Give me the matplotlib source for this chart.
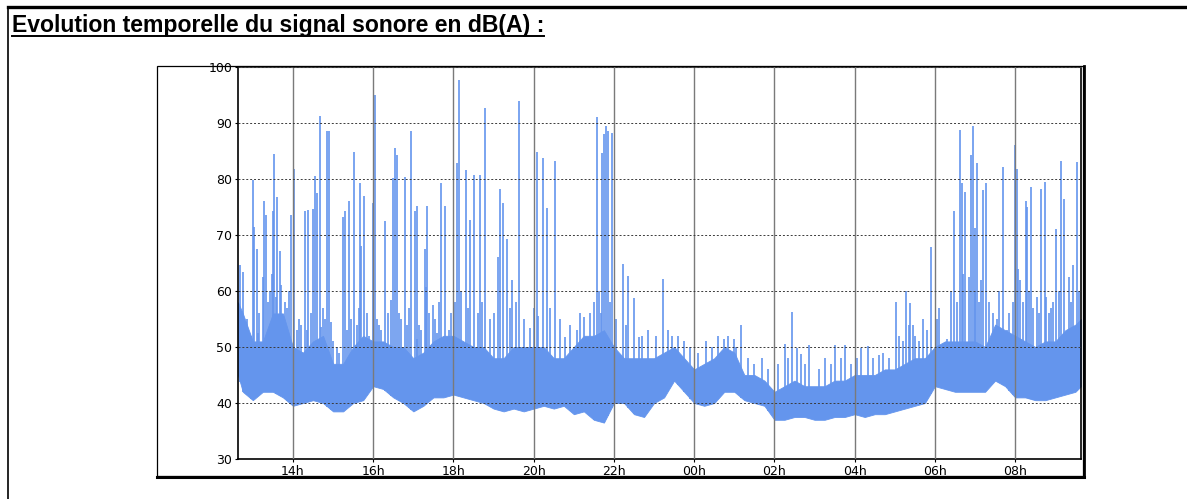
import numpy as np
import matplotlib.pyplot as plt
from matplotlib.lines import Line2D
from matplotlib.patches import Rectangle

# temps en heures depuis minuit du premier jour (24+ = lendemain)
env_t = [12.63] + list(np.arange(12.75, 33.51, 0.25)) + [33.64]

# enveloppe basse / haute du bruit de fond en dB(A), lue toutes les 15 min
env_lo = [45, 42,
          40.5, 42, 42, 41,
          39.5, 40, 40.5, 40,
          38.5, 38.5, 40, 40.5,
          43, 42.5, 41, 40,
          38.5, 39.5, 41, 41,
          41.5, 41, 40.5, 40,
          39, 38.5, 39, 38.5,
          39, 39.5, 39, 39.5,
          38, 38.5, 37, 36.5,
          40, 40, 38, 37.5,
          40, 41, 44, 42,
          40, 39.5, 40, 42,
          42, 40.5, 40, 39.5,
          37, 37, 37.5, 37.5,
          37, 37, 37.5, 37.5,
          38, 37.5, 38, 38,
          38.5, 39, 39.5, 40,
          43, 42.5, 42, 42,
          42, 42, 44, 43,
          41, 41, 40.5, 40.5,
          41, 41.5, 42, 43]
env_hi = [58, 56,
          51, 51, 56, 56,
          50, 49, 51, 52,
          47, 47, 50, 52,
          51, 51, 50, 50,
          48, 49, 51, 52,
          52, 51, 50, 50,
          48, 48, 50, 50,
          50, 50, 48, 48,
          50, 52, 52, 53,
          50, 48, 48, 48,
          48, 49, 50, 48,
          46, 47, 48, 50,
          49, 45, 45, 44,
          42, 43, 44, 43,
          43, 43, 44, 44,
          45, 45, 45, 46,
          46, 47, 48, 48,
          50, 51, 51, 51,
          51, 50, 54, 53,
          52, 51, 50, 51,
          51, 53, 54, 55]

# pics (evenements) : heure, niveau max
spike_t = [12.68, 12.75, 13.0, 13.03, 13.1, 13.26, 13.27, 13.33, 13.47, 13.5,
           13.53, 13.6, 13.67, 13.7, 13.9, 13.95, 14.02, 14.2, 14.31, 14.37,
           14.5, 14.54, 14.6, 14.67, 14.86, 14.9, 14.96, 15.25, 15.29, 15.39,
           15.52, 15.6, 15.68, 15.7, 15.78, 16.0, 16.05, 16.3, 16.5, 16.54,
           16.59, 16.79, 16.95, 17.05, 17.08, 17.3, 17.32, 17.34, 17.48, 17.7,
           17.8, 18.09, 18.15, 18.3, 18.42, 18.52, 18.65, 18.78, 19.17, 19.23,
           19.33, 19.63, 20.08, 20.24, 20.33, 20.54, 21.26, 21.58, 21.7, 21.75,
           21.8, 21.84, 21.94, 22.22, 22.36, 22.5, 23.21,
           25.17, 26.26, 26.44, 26.55, 26.85, 27.5, 27.77, 28.16, 28.34, 29.02,
           29.27, 29.39, 29.89,
           30.47, 30.63, 30.67, 30.76, 30.84, 30.9, 30.94, 30.99, 31.06, 31.19,
           31.28, 31.54, 31.69, 32.0, 32.04, 32.08, 32.27, 32.3, 32.4, 32.65,
           32.75, 32.78, 33.02, 33.15, 33.21, 33.33, 33.45, 33.53,
           17.9, 19.47, 19.9, 20.1, 20.77, 21.07, 21.67, 22.63, 24.75, 24.85,
           24.99, 23.6, 25.7, 26.65, 28.6, 29.2, 29.45, 29.6, 30.2, 30.3,
           31.1, 31.7, 31.8, 32.12, 32.85, 13.12, 14.35, 14.7, 15.0, 15.65,
           15.9, 16.2, 16.45, 16.85, 17.1, 17.2, 17.6,
           12.85, 12.95, 13.15, 13.38, 13.42, 13.58, 13.8, 13.85, 14.1, 14.15,
           14.45, 14.75, 14.8, 15.1, 15.15, 15.35, 15.45, 15.85, 16.1, 16.15,
           16.38, 16.65, 16.7, 16.9, 17.15, 17.4, 17.55, 17.65, 17.95,
           18.05, 18.2, 18.35, 18.6, 18.7, 18.9, 19.0, 19.1, 19.4, 19.55,
           19.75, 20.0, 20.4, 20.65, 20.9, 21.15, 21.4, 21.5, 21.62, 21.9,
           22.05, 22.3, 22.7, 22.85, 23.05, 23.35, 23.45, 23.75, 23.9,
           24.1, 24.3, 24.45, 24.6, 25.05, 25.35, 25.5, 25.85, 26.1, 26.35,
           26.75, 27.1, 27.25, 27.4, 27.65, 27.9, 28.05, 28.45, 28.7, 28.85,
           29.1, 29.35, 29.5, 29.7, 29.8,
           30.05, 30.1, 30.4, 30.55, 30.7, 31.0, 31.15, 31.35, 31.45, 31.6,
           31.85, 31.95, 32.2, 32.35, 32.45, 32.55, 32.6, 32.9, 32.95, 33.1,
           33.4, 33.6]
spike_db = [64.6, 63.4, 79.8, 71.5, 67.5, 62.5, 76.1, 73.6, 63, 74.3,
            84.5, 76.8, 67.2, 61.1, 60, 73.5, 81.8, 54, 74.3, 74.5,
            74.6, 80.6, 77.5, 91.3, 88.6, 88.5, 54.5, 73.2, 74.2, 76.1,
            84.9, 54, 79.3, 68, 77, 75.7, 95.0, 72.5, 80.2, 85.6,
            84.3, 80.3, 88.6, 74.3, 75.2, 67.5, 60.8, 75.1, 57.5, 79.2,
            75.2, 82.8, 97.7, 81.6, 72.7, 80.8, 80.8, 92.6, 78.2, 75.8,
            69.3, 94.0, 84.8, 83.8, 74.9, 83.2, 55.4, 91.1, 84.7, 88.0,
            89.5, 88.6, 88.3, 64.9, 62.6, 58.7, 62.1,
            53.9, 50.5, 56.3, 49.8, 50.4, 50.4, 50.4, 49.9, 50.2, 58.1,
            60.0, 57.9, 67.9,
            74.3, 88.75, 79.2, 77.6, 62.5, 84.3, 89.5, 71.3, 82.9, 78.0,
            79.3, 55, 82.2, 86.0, 81.7, 64, 76.1, 75.0, 78.6, 78.3,
            79.5, 59, 71, 83.2, 76.5, 62.5, 64.7, 83.1,
            53, 62, 53.4, 55.5, 51.8, 53, 56, 51.7, 51.4, 52,
            51.5, 52, 48, 48.7, 48.5, 51, 54, 51, 50.5, 51.5,
            58, 53, 53, 62, 56, 52.5, 53, 53.5, 51, 57,
            52, 53, 58.4, 54, 51.5, 53, 52.5,
            55, 52, 56, 58, 60, 59, 58, 57, 53, 55,
            56, 57, 55, 50, 49, 53, 55, 56, 55, 54,
            56, 56, 55, 57, 54, 56, 55, 58, 56,
            58, 60, 57, 56, 58, 55, 56, 66, 57, 58,
            55, 57, 57, 55, 54, 56, 56, 58, 60, 58,
            55, 54, 52, 53, 52, 53, 52, 51, 50,
            49, 51, 50, 52, 50, 48, 47, 46, 47, 48,
            47, 46, 48, 47, 48, 47, 48, 48, 49, 48,
            52, 54, 52, 55, 53,
            55, 57, 60, 58, 63, 60, 62, 58, 56, 60,
            56, 58, 58, 60, 57, 59, 56, 57, 58, 60,
            58, 60]

tick_hours = [14, 16, 18, 20, 22, 24, 26, 28, 30, 32]
tick_labels = ['14h', '16h', '18h', '20h', '22h', '00h', '02h', '04h', '06h', '08h']
y_ticks = [30, 40, 50, 60, 70, 80, 90, 100]

BLUE = '#6495ED'
W, H = 1187, 499

plt.rcParams['font.family'] = ['DejaVu Sans']
fig = plt.figure(figsize=(W / 100, H / 100), dpi=100)

# cadre du tableau (trait haut + trait gauche)
fig.add_artist(Line2D([8 / W, 1], [1 - 7 / H, 1 - 7 / H], color='black', lw=2.4))
fig.add_artist(Line2D([8 / W, 8 / W], [0, 1 - 7 / H], color='black', lw=1.2))

title = fig.text(12 / W, 1 - 32 / H, 'Evolution temporelle du signal sonore en dB(A) :',
                 family='Liberation Sans', weight='bold', fontsize=16.6, va='baseline')
fig.canvas.draw()
bb = title.get_window_extent()
fig.add_artist(Line2D([bb.x0 / W, bb.x1 / W], [(1 - 35.5 / H), (1 - 35.5 / H)],
                      color='black', lw=1.4))

# cadre du graphique avec ombre
x0, x1, y0, y1 = 157 / W, 1083 / W, 1 - 476 / H, 1 - 66 / H
fig.add_artist(Rectangle((x0, y0), x1 - x0, y1 - y0, transform=fig.transFigure,
                         fill=False, ec='black', lw=0.9))
fig.add_artist(Line2D([x0, x1 + 1 / W], [y0 - 1 / H, y0 - 1 / H], color='black', lw=2.2))
fig.add_artist(Line2D([x1 + 1 / W, x1 + 1 / W], [y0 - 1 / H, y1], color='black', lw=2.0))

ax = fig.add_axes([238 / W, 1 - 459 / H, (1081 - 238) / W, (459 - 67) / H])
ax.set_xlim(env_t[0], env_t[-1])
ax.set_ylim(30, 100)

ax.fill_between(env_t, env_lo, env_hi, color=BLUE, lw=0.6, edgecolor=BLUE, zorder=1)
base = np.interp(spike_t, env_t, env_lo)
ax.vlines(spike_t, base, spike_db, colors=BLUE, lw=1.2, zorder=2)

ax.set_xticks(tick_hours)
ax.set_xticklabels(tick_labels)
ax.set_yticks(y_ticks)
ax.tick_params(axis='both', labelsize=9, length=2.5, width=0.8, pad=1.5, color='black')
ax.set_axisbelow(False)
ax.grid(axis='x', color='#7a7a7a', lw=1.0, ls='-')
ax.grid(axis='y', color='#3a3a3a', lw=0.7, ls=(0, (2, 2)))

for s in ['left', 'bottom', 'right']:
    ax.spines[s].set_color('black')
    ax.spines[s].set_linewidth(1.2)
ax.spines['top'].set_color('#555555')
ax.spines['top'].set_linewidth(1.5)

fig.savefig('out.png', dpi=100)
